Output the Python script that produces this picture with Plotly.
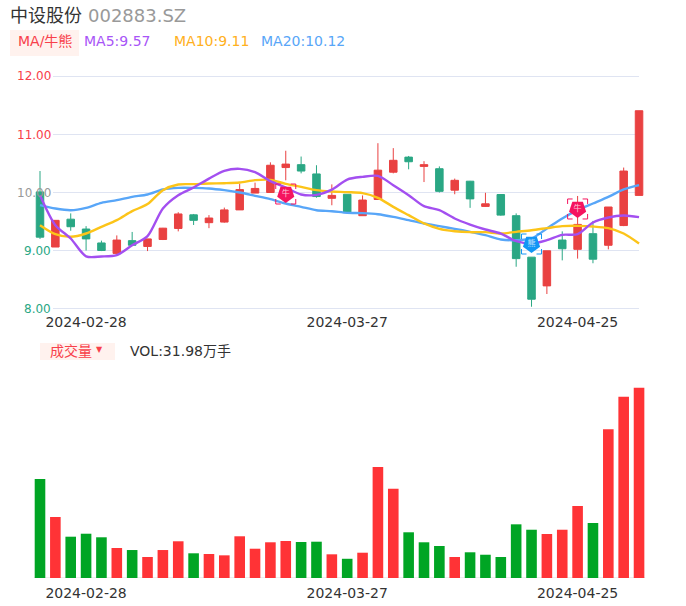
import plotly.graph_objects as go

idx = list(range(40))
open_ = [10.01,9.06,9.54,9.37,9.13,8.95,9.17,9.07,9.19,9.38,9.615,9.48,9.49,9.70,9.99,10.0,10.43,10.48,10.32,9.90,
         9.97,9.60,9.88,10.35,10.61,10.45,10.41,10.04,10.195,9.76,9.965,9.60,8.885,8.39,9.18,9.02,9.29,9.09,9.43,9.95]
close = [9.23,9.52,9.41,9.20,9.00,9.18,9.09,9.20,9.385,9.63,9.52,9.56,9.70,10.05,10.07,10.47,10.49,10.37,9.93,9.95,
         9.655,9.87,10.385,10.555,10.53,10.48,10.02,10.21,9.89,9.805,9.61,8.86,8.16,8.995,9.03,9.45,8.85,9.75,10.37,11.41]
high = [10.37,9.52,9.64,9.42,9.17,9.26,9.32,9.20,9.39,9.66,9.63,9.61,9.74,10.155,10.17,10.52,10.72,10.62,10.47,10.14,
        9.97,9.95,10.85,10.765,10.63,10.54,10.45,10.24,10.20,9.995,9.97,9.64,8.885,8.995,9.33,9.94,9.51,9.75,10.43,11.41]
low = [9.20,9.06,9.34,9.00,8.99,8.95,9.08,8.99,9.18,9.33,9.44,9.385,9.48,9.70,9.99,10.0,10.21,10.33,9.91,9.78,
       9.65,9.60,9.88,10.33,10.40,10.18,10.0,9.97,9.735,9.75,9.60,8.72,8.03,8.25,8.83,8.86,8.78,9.02,9.42,9.95]
ma5 = [9.954,9.437,9.207,8.90,8.897,8.92,9.09,9.247,9.724,9.954,10.086,10.24,10.374,10.408,10.35,10.195,10.086,9.966,9.96,10.05,
       10.224,10.27,10.287,10.126,9.954,9.764,9.695,9.552,9.448,9.362,9.293,9.161,9.12,9.178,9.27,9.282,9.483,9.569,9.603,9.575]
ma10 = [9.437,9.282,9.236,9.293,9.408,9.523,9.678,9.80,10.04,10.138,10.144,10.155,10.16,10.172,10.213,10.218,10.15,10.098,10.04,10.017,
        10.006,9.989,9.908,9.753,9.609,9.466,9.374,9.333,9.316,9.316,9.293,9.322,9.35,9.385,9.42,9.425,9.414,9.385,9.293,9.12]
ma20 = [9.782,9.724,9.695,9.736,9.822,9.868,9.925,9.966,10.052,10.08,10.08,10.069,10.04,10.0,9.943,9.885,9.81,9.753,9.695,9.678,
        9.649,9.644,9.626,9.58,9.523,9.466,9.42,9.374,9.322,9.264,9.19,9.178,9.207,9.379,9.552,9.695,9.81,9.925,10.052,10.126]
volume = [16.64,10.25,6.94,7.44,6.84,5.04,4.70,3.53,4.70,6.17,4.15,4.03,3.81,7.01,4.92,6.00,6.22,6.05,6.10,3.98,
          3.23,4.25,18.65,15.00,7.68,6.00,5.38,3.53,4.32,3.91,3.53,9.02,8.11,7.39,8.11,12.10,9.24,24.98,30.46,31.98]
volume_up = [0,1,0,0,0,1,0,1,1,1,0,1,1,1,1,1,1,0,0,1,
             0,1,1,1,0,0,0,1,0,0,0,0,0,1,1,1,0,1,1,1]
price_ticks = [12, 11, 10, 9, 8]
price_tick_labels = ["12.00", "11.00", "10.00", "9.00", "8.00"]
price_tick_colors = ["#f8404a", "#f8404a", "#999999", "#2aa784", "#2aa784"]
date_positions = [3, 20, 35]
date_labels = ["2024-02-28", "2024-03-27", "2024-04-25"]
signal_idx = [16, 32, 35]
signal_price = [9.974, 9.112, 9.716]
signal_text = ["牛", "熊", "牛"]
signal_color = ["#f5145f", "#1296f5", "#f5145f"]

W, H = 686, 606
PX0, PXSTEP = 40.0, 15.36
CN = "DejaVu Sans, Noto Sans CJK SC"
UP, DOWN = "#e94141", "#2aa784"
VUP, VDOWN = "#ff3336", "#00a524"

fig = go.Figure()
fig.add_trace(go.Candlestick(x=idx, open=open_, high=high, low=low, close=close, xaxis="x", yaxis="y",
    increasing=dict(line=dict(color=UP, width=1), fillcolor=UP),
    decreasing=dict(line=dict(color=DOWN, width=1), fillcolor=DOWN),
    whiskerwidth=0, showlegend=False, hoverinfo="skip"))
for ys, c in ((ma20, "#58a6f8"), (ma10, "#fcc419"), (ma5, "#a34ff0")):
    fig.add_trace(go.Scatter(x=idx, y=ys, mode="lines", xaxis="x", yaxis="y", cliponaxis=False,
        line=dict(color=c, width=2.4, shape="spline", smoothing=0.8), showlegend=False, hoverinfo="skip"))
fig.add_trace(go.Scatter(x=signal_idx, y=signal_price, mode="markers+text", xaxis="x", yaxis="y",
    text=signal_text, textposition="middle center", textfont=dict(color="rgba(255,255,255,0.75)", size=8, family=CN),
    marker=dict(symbol="pentagon", angle=180, size=18, color=signal_color, line=dict(width=0)),
    showlegend=False, hoverinfo="skip"))
fig.add_trace(go.Bar(x=idx, y=volume, xaxis="x2", yaxis="y2", width=0.69,
    marker=dict(color=[VUP if u else VDOWN for u in volume_up], line=dict(width=0)),
    showlegend=False, hoverinfo="skip"))

xr = [-PX0 / PXSTEP, (W - PX0) / PXSTEP]
top1, bot1 = 60, 312
fig.update_layout(
    width=W, height=H, margin=dict(l=0, r=0, t=0, b=0), autosize=False,
    paper_bgcolor="white", plot_bgcolor="white", bargap=0.3,
    font=dict(family=CN, size=14, color="#333333"),
    xaxis=dict(domain=[0, 1], range=xr, showgrid=False, zeroline=False, showline=False, ticks="",
               tickmode="array", tickvals=date_positions, ticktext=date_labels, ticklen=0,
               rangeslider=dict(visible=False), anchor="y", tickfont=dict(size=14, color="#333333")),
    yaxis=dict(domain=[1 - bot1 / H, 1 - top1 / H], range=[8 - (bot1 - 308.5) / 58, 12 + (76.5 - top1) / 58],
               showgrid=False, zeroline=False, showticklabels=False, anchor="x"),
    xaxis2=dict(domain=[0, 1], range=xr, showgrid=False, zeroline=False, showline=False, ticks="",
                tickmode="array", tickvals=date_positions, ticktext=date_labels, anchor="y2",
                ticklabelstandoff=5, tickfont=dict(size=14, color="#333333")),
    yaxis2=dict(domain=[(H - 578) / H, (H - 370) / H], range=[0, 34.95], showgrid=False, zeroline=False,
                showticklabels=False, anchor="x2"),
)
shapes = []
for t in price_ticks:
    shapes.append(dict(type="line", xref="x", yref="y", x0=(53 - PX0) / PXSTEP, x1=39, y0=t, y1=t,
                       line=dict(color="#dfe4f2", width=1), layer="below"))
shapes.append(dict(type="line", xref="x2", yref="y2", x0=-0.4, x1=39.4, y0=0, y1=0,
                   line=dict(color="#dddddd", width=1), layer="below"))
shapes.append(dict(type="rect", xref="paper", yref="paper", x0=10 / W, x1=79 / W, y0=1 - 56 / H, y1=1 - 30 / H,
                   fillcolor="#fff2ee", line=dict(width=0), layer="below"))
shapes.append(dict(type="rect", xref="paper", yref="paper", x0=40 / W, x1=115 / W, y0=1 - 360 / H, y1=1 - 343 / H,
                   fillcolor="#fff2ee", line=dict(width=0), layer="below"))
# corner brackets round each signal, sized in pixels and anchored on the data point
bracket = ("M-10,-5 L-10,-10 L-5,-10 M5,-10 L10,-10 L10,-5 "
           "M10,5 L10,10 L5,10 M-5,10 L-10,10 L-10,5")
for i, p, c in zip(signal_idx, signal_price, signal_color):
    shapes.append(dict(type="path", xref="x", yref="y", xsizemode="pixel", ysizemode="pixel",
                       xanchor=i, yanchor=p, path=bracket, line=dict(color=c, width=1)))
fig.update_layout(shapes=shapes)

def label(x, y, text, color, size=14):
    fig.add_annotation(xref="paper", yref="paper", x=x / W, y=1 - y / H, text=text, showarrow=False,
                       xanchor="left", yanchor="middle", font=dict(color=color, size=size, family=CN),
                       borderpad=0, borderwidth=0)

for t, s, c in zip(price_ticks, price_tick_labels, price_tick_colors):
    fig.add_annotation(xref="paper", yref="y", x=53 / W, y=t, text=s, showarrow=False, xanchor="right",
                       yanchor="middle", yshift=0, font=dict(color=c, size=12, family=CN))
label(10, 15, "中设股份", "#333333", 18)
label(88, 15, "002883.SZ", "#999999", 18)
label(18, 41, "MA/牛熊", "#f8404a")
label(84, 41, "MA5:9.57", "#a855f7")
label(174, 41, "MA10:9.11", "#ffb020")
label(261, 41, "MA20:10.12", "#58a6f8")
label(50, 351, "成交量", "#f8404a")
label(96, 349, "▼", "#f8404a", 8)
label(130, 351, "VOL:31.98万手", "#333333")

fig.write_html("out.html", config=dict(displayModeBar=False),
               post_script="document.body.style.margin='0';window.dispatchEvent(new Event('resize'));")
